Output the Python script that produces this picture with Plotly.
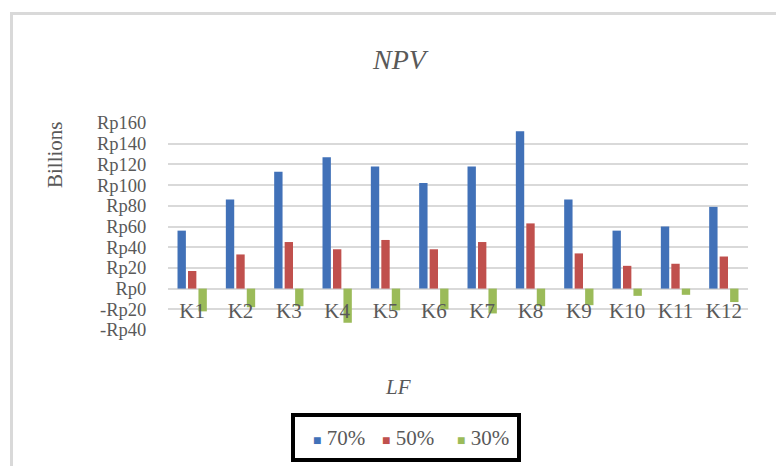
import plotly.graph_objects as go

# NPV per route (billions of rupiah) for three load factors
routes = ["K1", "K2", "K3", "K4", "K5", "K6", "K7", "K8", "K9", "K10", "K11", "K12"]
npv_70 = [56, 86, 113, 127, 118, 102, 118, 152, 86, 56, 60, 79]
npv_50 = [17, 33, 45, 38, 47, 38, 45, 63, 34, 22, 24, 31]
npv_30 = [-22, -18, -17, -33, -21, -20, -24, -17, -16, -7, -6, -13]

series_names = ["70%", "50%", "30%"]
series_colors = ["#4171B8", "#C0504D", "#9BBB59"]

y_ticks = [-40, -20, 0, 20, 40, 60, 80, 100, 120, 140, 160]
y_ticktext = [("-Rp" + str(-v)) if v < 0 else ("Rp" + str(v)) for v in y_ticks]

W, H = 776, 466
ML, MR, MT, MB = 168, 28, 123, 136
plot_w = W - ML - MR
plot_h = H - MT - MB
y_min, y_max = -40, 160

def px_to_xpaper(px):
    return (px - ML) / plot_w

def px_to_ypaper(py):
    return (H - MB - py) / plot_h

font_family = "Liberation Serif, Times New Roman, serif"
text_color = "#595959"
fs = 21

fig = go.Figure()
for name, vals, col in zip(series_names, [npv_70, npv_50, npv_30], series_colors):
    fig.add_trace(go.Bar(x=routes, y=vals, name=name, marker=dict(color=col, line=dict(width=0))))

fig.update_layout(
    width=W, height=H,
    margin=dict(l=ML, r=MR, t=MT, b=MB),
    paper_bgcolor="white", plot_bgcolor="white",
    barmode="group", bargap=0.35, bargroupgap=0.2,
    font=dict(family=font_family, size=fs, color=text_color),
    showlegend=False,
)

fig.update_yaxes(
    range=[y_min, y_max],
    tickvals=y_ticks, ticktext=y_ticktext,
    showgrid=True, gridcolor="#D9D9D9", gridwidth=1.5,
    zeroline=False, showline=False,
    ticks="outside", ticklen=17, tickcolor="rgba(0,0,0,0)",
    tickfont=dict(family=font_family, size=18.5, color=text_color),
)

# category axis sits on the zero line
fig.update_xaxes(
    anchor="free", position=(0 - y_min) / (y_max - y_min),
    showgrid=False, zeroline=False, showline=False,
    ticks="outside", ticklen=3, tickcolor="rgba(0,0,0,0)",
    tickfont=dict(family=font_family, size=fs, color=text_color),
)

# title, axis titles
def label(text, xp, yp, size, italic=False, angle=0):
    fig.add_annotation(text=text, x=px_to_xpaper(xp), y=px_to_ypaper(yp),
                       xref="paper", yref="paper", showarrow=False,
                       xanchor="center", yanchor="middle", textangle=angle,
                       font=dict(family=font_family, size=size, color=text_color,
                                 style="italic" if italic else "normal"))

label("NPV", 400, 60, 28, italic=True)
label("Billions", 55, 155, fs, angle=-90)
label("LF", 398, 387, fs, italic=True)

# legend: boxed row of colour keys
legend_x = [311, 380, 455]
for name, col, lx in zip(series_names, series_colors, legend_x):
    fig.add_annotation(
        text=f"<span style='color:{col};font-size:14px'>■</span> {name}",
        x=px_to_xpaper(lx), y=px_to_ypaper(438), xref="paper", yref="paper",
        showarrow=False, xanchor="left", yanchor="middle",
        font=dict(family=font_family, size=fs, color=text_color),
    )
fig.add_shape(type="rect", xref="paper", yref="paper",
              x0=px_to_xpaper(293), x1=px_to_xpaper(519),
              y0=px_to_ypaper(415), y1=px_to_ypaper(460),
              line=dict(color="black", width=4), fillcolor="rgba(0,0,0,0)")

# chart frame (left and top edges visible)
fig.add_shape(type="line", xref="paper", yref="paper",
              x0=px_to_xpaper(11.5), x1=px_to_xpaper(11.5), y0=px_to_ypaper(13), y1=px_to_ypaper(470),
              line=dict(color="#D9D9D9", width=3))
fig.add_shape(type="line", xref="paper", yref="paper",
              x0=px_to_xpaper(10), x1=px_to_xpaper(780), y0=px_to_ypaper(13.5), y1=px_to_ypaper(13.5),
              line=dict(color="#D9D9D9", width=3))

fig.write_html("out.html")
